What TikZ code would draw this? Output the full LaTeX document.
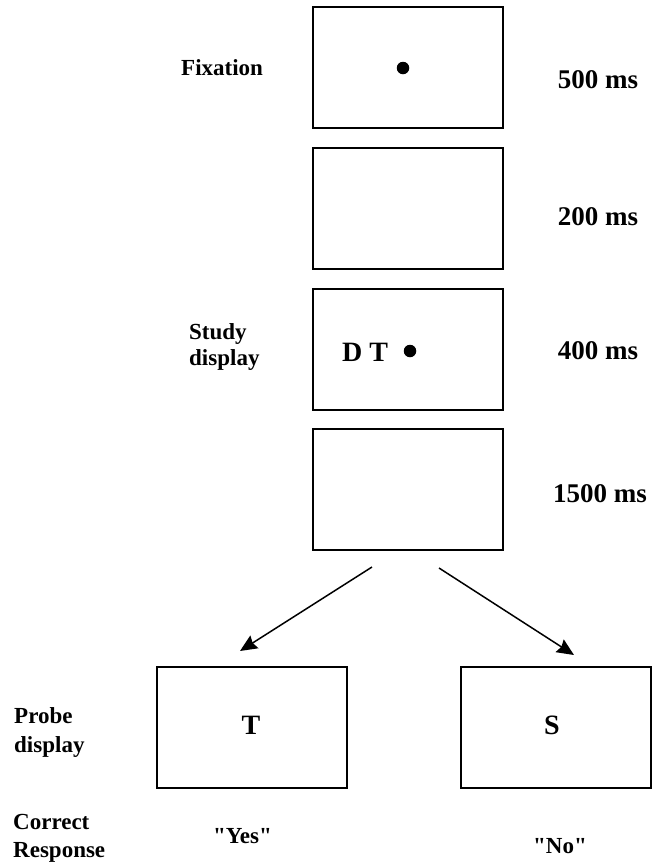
\documentclass[tikz,border=0pt]{standalone}
\usepackage{fontspec}
\setmainfont{Liberation Serif}
% same face without the TeX quote mapping, so " stays a straight mark
\newfontfamily\straightquotes{Liberation Serif}
\usetikzlibrary{arrows.meta}
\begin{document}
\begin{tikzpicture}[x=1pt,y=-1pt,
  screen/.style={draw=black, line width=2pt, minimum width=190pt, minimum height=121pt, inner sep=0pt, outer sep=0pt},
  lbl/.style={font=\fontsize{23}{28}\selectfont\bfseries, inner sep=0pt, align=left},
  dur/.style={font=\fontsize{27}{30}\selectfont\bfseries, inner sep=0pt},
  stim/.style={font=\fontsize{28}{32}\selectfont\bfseries, inner sep=0pt},
  resp/.style={font=\straightquotes\fontsize{23}{28}\selectfont\bfseries, inner sep=0pt},
  flow/.style={line width=1.5pt, -{Stealth[length=17pt, width=15pt, inset=2pt]}},
  dot/.style={circle, fill=black, inner sep=0pt, minimum size=12.5pt}
]
\useasboundingbox (0,0) rectangle (655,863);

% sequence of screens
\node[screen] (b1) at (408,67.5) {};
\node[screen] (b2) at (408,208.5) {};
\node[screen] (b3) at (408,349.5) {};
\node[screen] (b4) at (408,489.5) {};
\node[screen] (p1) at (252,727.5) {};
\node[screen] (p2) at (556,727.5) {};

% screen contents
\node[dot] (fix) at (403,68) {};
\node[stim, anchor=base west] (dt) at (342,361) {D T};
\node[dot] (fix2) at (410,351) {};
\node[stim] (tp) at (251,725) {T};
\node[stim] (sp) at (552,725) {S};

% row labels (base anchor sits on the last line)
\node[lbl, anchor=base west] (lfix) at (181,75) {Fixation};
\node[lbl, anchor=base west, font=\fontsize{23}{26}\selectfont\bfseries] (lstudy) at (189,365) {Study\\display};
\node[lbl, anchor=base west, font=\fontsize{23}{29}\selectfont\bfseries] (lprobe) at (14,752) {Probe\\display};
\node[lbl, anchor=base west] (lresp) at (13,857) {Correct\\Response};

% durations
\node[dur, anchor=base] (d1) at (598,88) {500 ms};
\node[dur, anchor=base] (d2) at (598,225) {200 ms};
\node[dur, anchor=base] (d3) at (598,359) {400 ms};
\node[dur, anchor=base] (d4) at (600,502) {1500 ms};

% responses
\node[resp, anchor=base] (ryes) at (242.5,843) {"Yes"};
\node[resp, anchor=base] (rno) at (560,853) {"No"};

% branching arrows
\coordinate (a1s) at (372,567);
\coordinate (a1e) at (240,651);
\coordinate (a2s) at (439,568);
\coordinate (a2e) at (574,655);
\draw[flow] (a1s) -- (a1e);
\draw[flow] (a2s) -- (a2e);
\end{tikzpicture}
\end{document}
